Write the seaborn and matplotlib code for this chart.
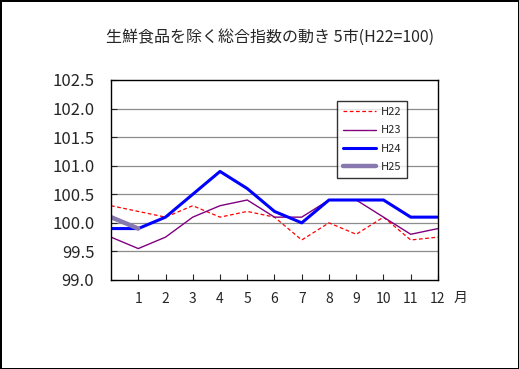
import pandas as pd
import matplotlib
matplotlib.use("Agg")
import matplotlib.pyplot as plt
import seaborn as sns

# month index 0..12 (0 = start point at the left edge)
months = list(range(13))
h22 = [100.3, 100.2, 100.1, 100.3, 100.1, 100.2, 100.1, 99.7, 100.0, 99.8, 100.1, 99.7, 99.75]
h23 = [99.75, 99.55, 99.75, 100.1, 100.3, 100.4, 100.1, 100.1, 100.4, 100.4, 100.1, 99.8, 99.9]
h24 = [99.9, 99.9, 100.1, 100.5, 100.9, 100.6, 100.2, 100.0, 100.4, 100.4, 100.4, 100.1, 100.1]
h25 = [100.1, 99.9]
tick_labels = [str(m) for m in range(1, 13)]

sns.set_style('white')
plt.rcParams['font.family'] = ['Noto Sans CJK JP', 'DejaVu Sans']

fig = plt.figure(figsize=(5.19, 3.69), dpi=100)
fig.patch.set_edgecolor('black')
fig.patch.set_linewidth(1.0)
ax = fig.add_axes([0.2139, 0.2412, 0.63, 0.5420])

series = [
    ('H22', h22, '#ff0000', 0.9, (0, (3, 2))),
    ('H23', h23, '#800080', 1.0, '-'),
    ('H24', h24, '#0000ff', 2.2, '-'),
    ('H25', h25, '#8878b0', 3.2, '-'),
]
for name, vals, color, lw, ls in series:
    df = pd.DataFrame({'month': months[:len(vals)], 'value': vals})
    sns.lineplot(data=df, x='month', y='value', ax=ax, color=color,
                 linewidth=lw, linestyle=ls, label=name)

ax.set_xlim(0, 12)
ax.set_ylim(99.0, 102.5)
ax.set_yticks([99.0 + 0.5 * i for i in range(8)])
ax.set_yticklabels([f'{99.0 + 0.5 * i:.1f}' for i in range(8)])
ax.set_xticks(range(1, 13))
ax.set_xticklabels(tick_labels)
ax.set_xlabel('')
ax.set_ylabel('')
for y in [99.5, 100.0, 100.5, 101.0, 101.5, 102.0]:
    ax.axhline(y, color='#8c8c8c', linewidth=0.9, zorder=0)

for s in ax.spines.values():
    s.set_color('black')
    s.set_linewidth(1.0)
ax.tick_params(axis='y', direction='in', length=4, pad=12, labelsize=12, left=True)
ax.tick_params(axis='x', direction='in', length=4, pad=9, labelsize=10, bottom=True)

ax.text(1.068, -0.09, '月', transform=ax.transAxes, ha='center', va='center', fontsize=10)
fig.text(0.52, 0.90, '生鮮食品を除く総合指数の動き 5市(H22=100)', ha='center', va='center', fontsize=11.5)

leg = ax.legend(loc='upper left', bbox_to_anchor=(0.69, 0.895), borderaxespad=0,
                frameon=True, fancybox=False, edgecolor='black', fontsize=8,
                handlelength=3.0, labelspacing=0.75, borderpad=0.55, handletextpad=0.4)
leg.get_frame().set_linewidth(1.0)

fig.savefig('out.png', dpi=100)
